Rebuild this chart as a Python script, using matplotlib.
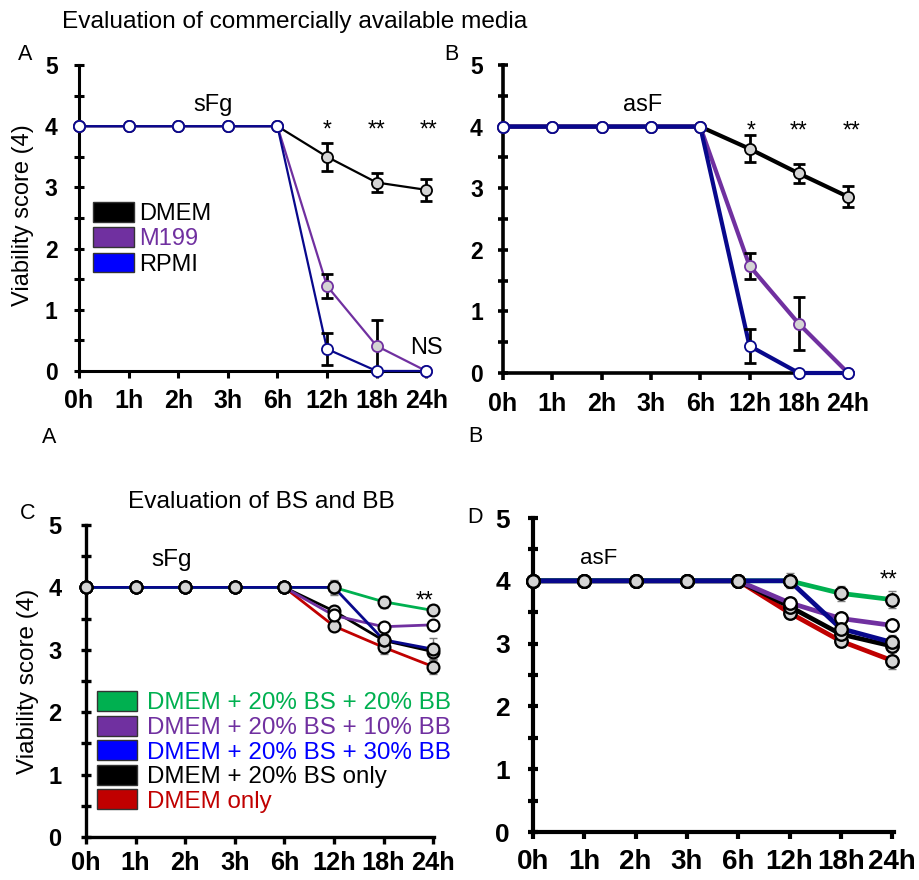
import numpy as np
import matplotlib
matplotlib.use("Agg")
import matplotlib.pyplot as plt
from matplotlib.patches import Patch

plt.rcParams['font.family'] = ['Liberation Sans', 'DejaVu Sans']

# ==========================================
# DATA
# ==========================================
TIMES = ["0h", "1h", "2h", "3h", "6h", "12h", "18h", "24h"]

# Panel A (sFg) - commercial media
A_DMEM = [4, 4, 4, 4, 4, 3.50, 3.08, 2.96]
A_DMEM_ERR = [0, 0, 0, 0, 0, 0.23, 0.15, 0.18]
A_M199 = [4, 4, 4, 4, 4, 1.39, 0.41, 0]
A_M199_ERR = [0, 0, 0, 0, 0, 0.20, 0.42, 0]
A_RPMI = [4, 4, 4, 4, 4, 0.36, 0, 0]
A_RPMI_ERR = [0, 0, 0, 0, 0, 0.26, 0, 0]

# Panel B (asF) - commercial media
B_DMEM = [4, 4, 4, 4, 4, 3.64, 3.24, 2.86]
B_DMEM_ERR = [0, 0, 0, 0, 0, 0.22, 0.15, 0.17]
B_M199 = [4, 4, 4, 4, 4, 1.74, 0.80, 0]
B_M199_ERR = [0, 0, 0, 0, 0, 0.21, 0.43, 0]
B_RPMI = [4, 4, 4, 4, 4, 0.44, 0, 0]
B_RPMI_ERR = [0, 0, 0, 0, 0, 0.27, 0, 0]

# Panel C (sFg) - BS and BB
C_BS20_BB20 = [4, 4, 4, 4, 4, 4.00, 3.77, 3.63]
C_BS20_BB20_ERR = [0, 0, 0, 0, 0, 0.12, 0.10, 0.08]
C_BS20_BB10 = [4, 4, 4, 4, 4, 3.55, 3.37, 3.40]
C_BS20_BB10_ERR = [0, 0, 0, 0, 0, 0.05, 0.05, 0.05]
C_BS20_BB30 = [4, 4, 4, 4, 4, 4.00, 3.16, 3.01]
C_BS20_BB30_ERR = [0, 0, 0, 0, 0, 0.10, 0.08, 0.18]
C_BS20 = [4, 4, 4, 4, 4, 3.62, 3.15, 2.97]
C_BS20_ERR = [0, 0, 0, 0, 0, 0.08, 0.10, 0.12]
C_DMEM = [4, 4, 4, 4, 4, 3.38, 3.04, 2.73]
C_DMEM_ERR = [0, 0, 0, 0, 0, 0.06, 0.10, 0.12]

# Panel D (asF) - BS and BB
D_BS20_BB20 = [4, 4, 4, 4, 4, 4.00, 3.80, 3.70]
D_BS20_BB20_ERR = [0, 0, 0, 0, 0, 0.12, 0.12, 0.13]
D_BS20_BB10 = [4, 4, 4, 4, 4, 3.65, 3.40, 3.29]
D_BS20_BB10_ERR = [0, 0, 0, 0, 0, 0.05, 0.05, 0.05]
D_BS20_BB30 = [4, 4, 4, 4, 4, 4.00, 3.24, 3.02]
D_BS20_BB30_ERR = [0, 0, 0, 0, 0, 0.08, 0.08, 0.12]
D_BS20 = [4, 4, 4, 4, 4, 3.59, 3.15, 2.96]
D_BS20_ERR = [0, 0, 0, 0, 0, 0.08, 0.10, 0.10]
D_DMEM = [4, 4, 4, 4, 4, 3.49, 3.04, 2.73]
D_DMEM_ERR = [0, 0, 0, 0, 0, 0.06, 0.09, 0.13]

MEDIA_LABELS = ["DMEM", "M199", "RPMI"]
BSBB_LABELS = ["DMEM + 20% BS + 20% BB", "DMEM + 20% BS + 10% BB",
               "DMEM + 20% BS + 30% BB", "DMEM + 20% BS only", "DMEM only"]

# ==========================================
# STYLE
# ==========================================
W, H = 919, 880
BLACK = '#000000'
PURPLE = '#7030A0'
NAVY = '#08088C'
GREEN = '#00B050'
RED = '#C00000'
BLUE_PATCH = '#0000FF'
GRAY_FILL = '#D4D4D4'


def fig_rect(left, right, top, bottom):
    return [left / W, 1 - bottom / H, (right - left) / W, (bottom - top) / H]


def style_axes(ax, xmax, spine_w, tick_fs_x, tick_fs_y, xpad, ypad):
    x = np.arange(len(TIMES))
    ax.set_xlim(0, xmax)
    ax.set_ylim(0, 5)
    ax.set_xticks(x)
    ax.set_xticklabels(TIMES, fontsize=tick_fs_x, fontweight='bold')
    ax.set_yticks(range(6))
    ax.set_yticklabels([str(v) for v in range(6)], fontsize=tick_fs_y,
                       fontweight='bold')
    ax.set_yticks(np.arange(0.5, 5, 1), minor=True)
    for s in ['top', 'right']:
        ax.spines[s].set_visible(False)
    for s in ['left', 'bottom']:
        ax.spines[s].set_linewidth(spine_w)
    ax.tick_params(axis='x', direction='out', length=5, width=spine_w,
                   pad=xpad)
    ax.tick_params(axis='y', which='both', direction='inout', length=7,
                   width=spine_w, pad=ypad)
    ax.patch.set_alpha(0)


def draw_series(ax, y, err, color, face, lw, ms, z, ecolor, elw, capsize,
                edge=None, mew=1.3):
    x = np.arange(len(y))
    ax.plot(x, y, color=color, lw=lw, zorder=z, clip_on=False)
    e = np.array(err)
    idx = e > 0
    if idx.any():
        ax.errorbar(x[idx], np.array(y)[idx], yerr=e[idx], fmt='none',
                    ecolor=ecolor, elinewidth=elw, capsize=capsize,
                    capthick=elw, zorder=z + 0.5, clip_on=False)
    ax.plot(x, y, ls='none', marker='o', ms=ms, mfc=face,
            mec=edge if edge else color, mew=mew, zorder=z + 10,
            clip_on=False)


fig = plt.figure(figsize=(W / 100, H / 100), dpi=100, facecolor='white')

# ---------------- Panel A ----------------
axA = fig.add_axes(fig_rect(79, 79 + 7.08 * 49.6, 65, 371))
style_axes(axA, 7.08, 2.2, 18, 16.5, 8, 12)
draw_series(axA, A_DMEM, A_DMEM_ERR, BLACK, GRAY_FILL, 1.6, 8, 2, BLACK, 2, 4)
draw_series(axA, A_M199, A_M199_ERR, PURPLE, GRAY_FILL, 1.6, 8, 3, BLACK, 2, 4)
draw_series(axA, A_RPMI, A_RPMI_ERR, NAVY, 'white', 1.6, 8, 4, BLACK, 2, 4)
axA.text(2.7, 4.35, "sFg", fontsize=17, ha='center', va='center')
axA.text(5.0, 3.93, "*", fontsize=16.5, ha='center', va='center')
axA.text(6.0, 3.93, "**", fontsize=16.5, ha='center', va='center')
axA.text(7.05, 3.93, "**", fontsize=16.5, ha='center', va='center')
axA.text(7.0, 0.37, "NS", fontsize=17, ha='center', va='center')
axA.legend(handles=[Patch(facecolor=BLACK, edgecolor='#333333', label=MEDIA_LABELS[0]),
                    Patch(facecolor=PURPLE, edgecolor='#333333', label=MEDIA_LABELS[1]),
                    Patch(facecolor=BLUE_PATCH, edgecolor='#333333', label=MEDIA_LABELS[2])],
           loc='upper left', bbox_to_anchor=(93 / W, 1 - 202 / H),
           bbox_transform=fig.transFigure, frameon=False, fontsize=17,
           handlelength=1.74, handleheight=0.9, handletextpad=0.22,
           labelspacing=0.1, borderpad=0, borderaxespad=0,
           labelcolor=[BLACK, PURPLE, BLACK])

# ---------------- Panel B ----------------
axB = fig.add_axes(fig_rect(503, 503 + 7.1 * 49.3, 65, 373))
style_axes(axB, 7.1, 2.6, 18, 16.5, 9, 11)
draw_series(axB, B_DMEM, B_DMEM_ERR, BLACK, GRAY_FILL, 3, 8, 2, BLACK, 2, 4)
draw_series(axB, B_M199, B_M199_ERR, PURPLE, GRAY_FILL, 3, 8, 3, BLACK, 2, 4)
draw_series(axB, B_RPMI, B_RPMI_ERR, NAVY, 'white', 3, 8, 4, BLACK, 2, 4)
axB.text(2.83, 4.35, "asF", fontsize=17, ha='center', va='center')
axB.text(5.03, 3.93, "*", fontsize=16.5, ha='center', va='center')
axB.text(6.0, 3.93, "**", fontsize=16.5, ha='center', va='center')
axB.text(7.08, 3.93, "**", fontsize=16.5, ha='center', va='center')

# ---------------- Panel C ----------------
axC = fig.add_axes(fig_rect(86, 86 + 7.02 * 49.6, 525, 837))
style_axes(axC, 7.02, 2.4, 18.3, 17, 5, 14)
c_series = [(C_DMEM, C_DMEM_ERR, RED, GRAY_FILL),
            (C_BS20, C_BS20_ERR, BLACK, GRAY_FILL),
            (C_BS20_BB10, C_BS20_BB10_ERR, PURPLE, 'white'),
            (C_BS20_BB20, C_BS20_BB20_ERR, GREEN, GRAY_FILL),
            (C_BS20_BB30, C_BS20_BB30_ERR, NAVY, GRAY_FILL)]
for i, (y, e, col, face) in enumerate(c_series):
    draw_series(axC, y, e, col, face, 2.0, 8.5, 2 + i, '#7F7F7F', 1.0, 3,
                edge=BLACK, mew=1.6)
axC.text(1.73, 4.44, "sFg", fontsize=17.5, ha='center', va='center')
axC.text(6.83, 3.78, "**", fontsize=16.5, ha='center', va='center')

legend_colors = [GREEN, PURPLE, BLUE_PATCH, BLACK, RED]
text_colors = [GREEN, PURPLE, BLUE_PATCH, BLACK, RED]
axC.legend(handles=[Patch(facecolor=c, edgecolor='#333333', label=l)
                    for c, l in zip(legend_colors, BSBB_LABELS)],
           loc='upper left', bbox_to_anchor=(97 / W, 1 - 691 / H),
           bbox_transform=fig.transFigure, frameon=False, fontsize=17.4,
           handlelength=1.65, handleheight=0.9, handletextpad=0.42,
           labelspacing=0.05, borderpad=0, borderaxespad=0,
           labelcolor=text_colors)

# ---------------- Panel D ----------------
axD = fig.add_axes(fig_rect(533, 533 + 7.03 * 51.3, 518, 832))
style_axes(axD, 7.03, 3.0, 20, 19, 7, 13)
d_series = [(D_DMEM, D_DMEM_ERR, RED, GRAY_FILL),
            (D_BS20, D_BS20_ERR, BLACK, GRAY_FILL),
            (D_BS20_BB10, D_BS20_BB10_ERR, PURPLE, 'white'),
            (D_BS20_BB20, D_BS20_BB20_ERR, GREEN, GRAY_FILL),
            (D_BS20_BB30, D_BS20_BB30_ERR, NAVY, GRAY_FILL)]
for i, (y, e, col, face) in enumerate(d_series):
    draw_series(axD, y, e, col, face, 3.4, 9, 2 + i, '#7F7F7F', 1.0, 3,
                edge=BLACK, mew=1.7)
axD.text(1.27, 4.35, "asF", fontsize=16, ha='center', va='center')
axD.text(6.94, 4.02, "**", fontsize=16.5, ha='center', va='center')

# ---------------- Figure texts ----------------
def ftext(x, y, s, **kw):
    fig.text(x / W, 1 - y / H, s, **kw)

ftext(62, 22, "Evaluation of commercially available media", fontsize=17.6,
      ha='left', va='center')
ftext(25, 55, "A", fontsize=15.5, ha='center', va='center')
ftext(451, 55, "B", fontsize=15.5, ha='center', va='center')
ftext(49, 437, "A", fontsize=15.5, ha='center', va='center')
ftext(475, 436, "B", fontsize=15.5, ha='center', va='center')
ftext(261, 502, "Evaluation of BS and BB", fontsize=17.6, ha='center',
      va='center')
ftext(28, 513, "C", fontsize=15.5, ha='center', va='center')
ftext(475, 517, "D", fontsize=15.5, ha='center', va='center')
ftext(23, 215, "Viability score (4)", fontsize=17, rotation=90,
      ha='center', va='center')
ftext(28, 681, "Viability score (4)", fontsize=17.5, rotation=90,
      ha='center', va='center')

fig.savefig("out.png", dpi=100, facecolor='white')
